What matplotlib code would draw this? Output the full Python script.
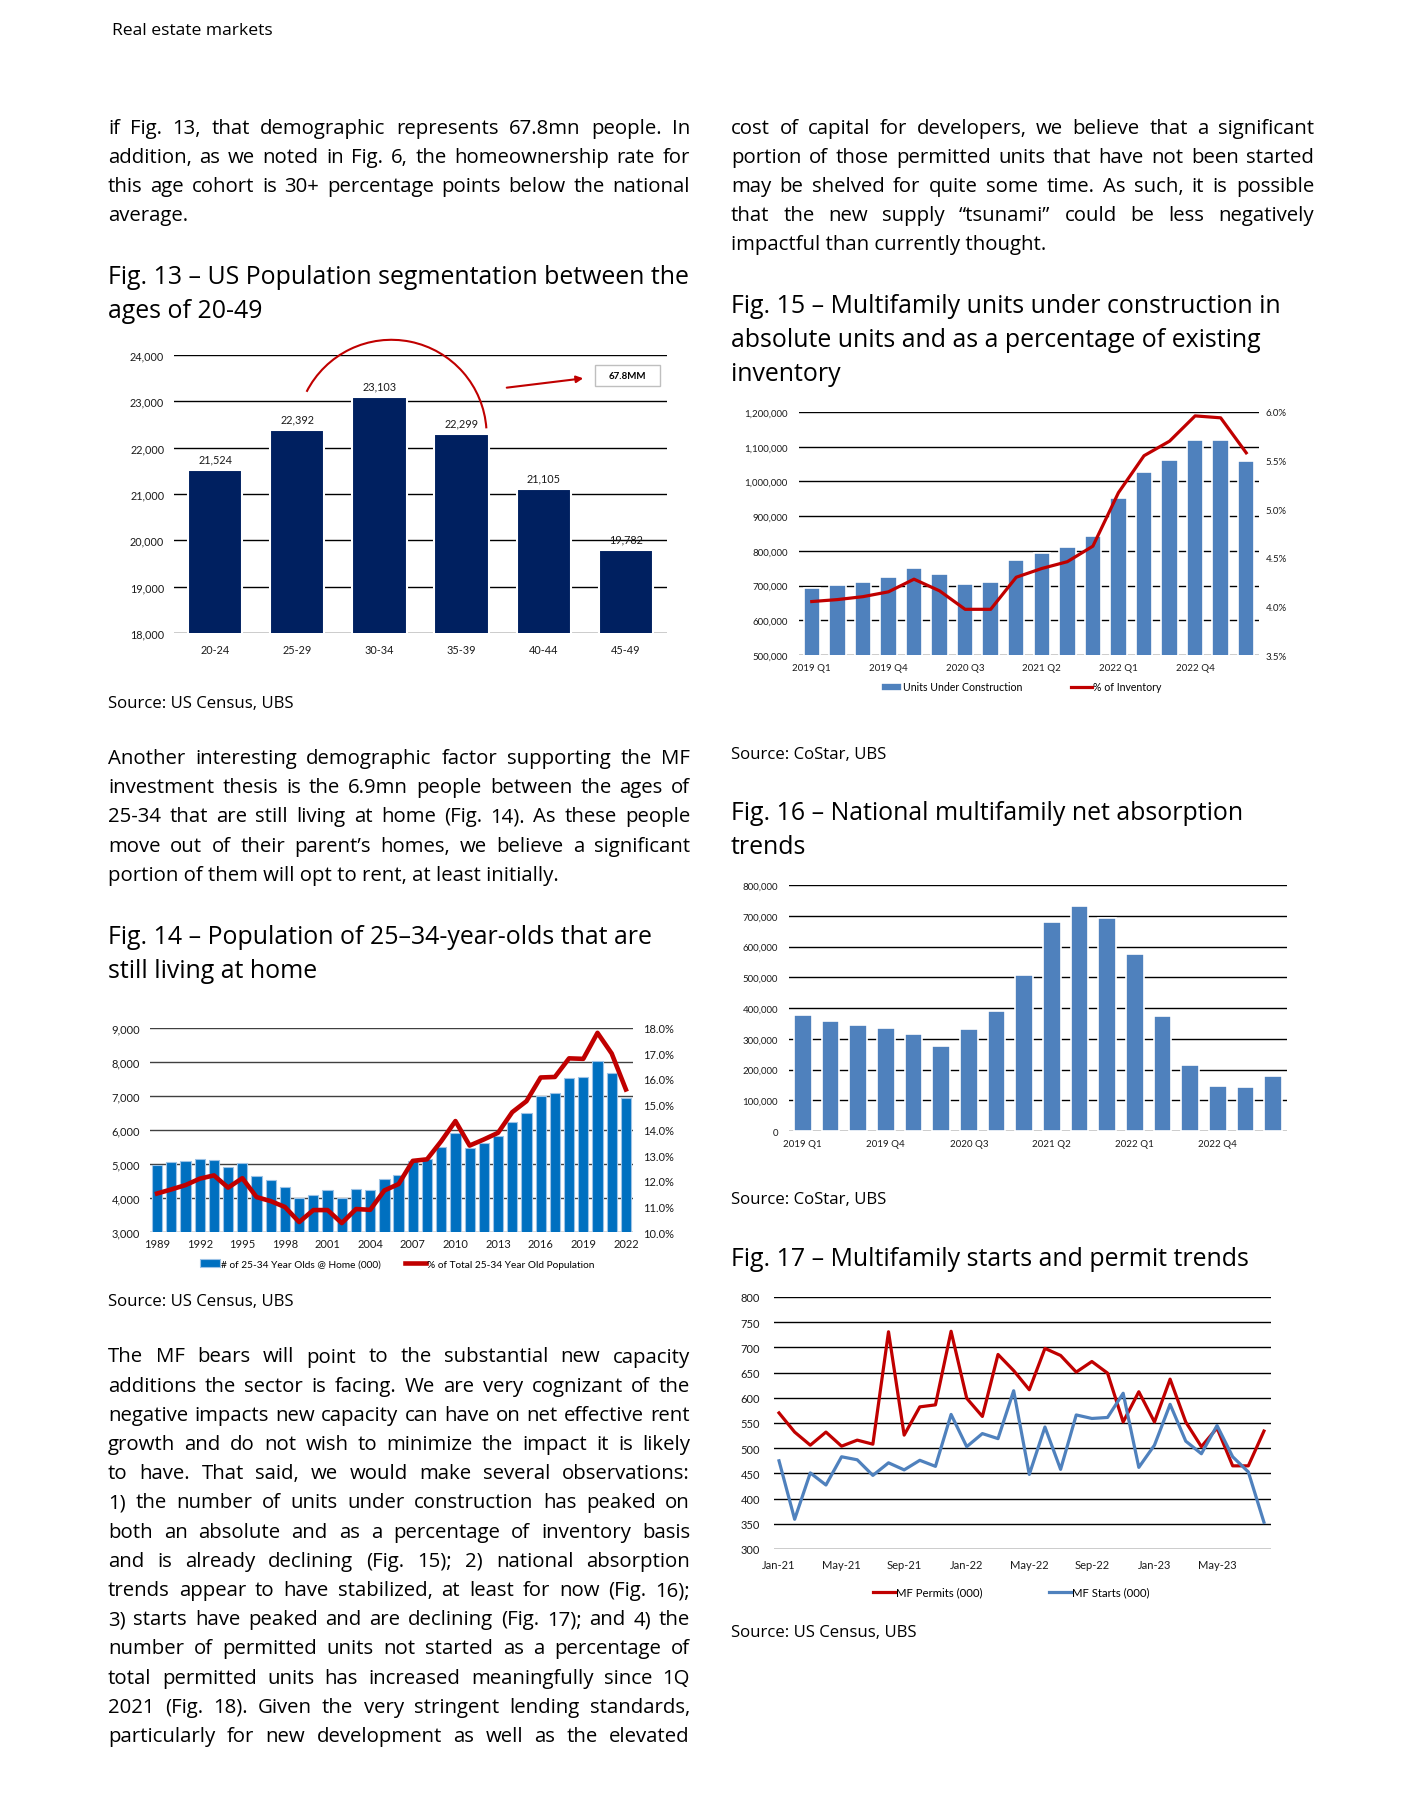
import matplotlib
matplotlib.use('Agg')
import matplotlib.pyplot as plt
from matplotlib.patches import Arc, Rectangle, FancyArrowPatch
from matplotlib.ticker import FuncFormatter, MultipleLocator

W, H = 1419, 1799
BODY = ['Open Sans', 'DejaVu Sans']
CHART = ['Lato', 'DejaVu Sans']

# Fig. 13 - population by age bracket (000)
ages = ['20-24', '25-29', '30-34', '35-39', '40-44', '45-49']
pop_000 = [21524, 22392, 23103, 22299, 21105, 19782]

# Fig. 14 - 25-34 year olds living at home
years = list(range(1989, 2023))
home_000 = [4980, 5050, 5090, 5140, 5110, 4920, 5030, 4650, 4520, 4320,
            3990, 4090, 4230, 3990, 4270, 4240, 4560, 4690, 5080, 5150,
            5500, 5900, 5460, 5610, 5810, 6230, 6500, 7010, 7100, 7530,
            7570, 8040, 7690, 6940]
home_pct = [11.51, 11.67, 11.84, 12.09, 12.22, 11.74, 12.11, 11.37, 11.21, 10.98,
            10.39, 10.86, 10.86, 10.35, 10.90, 10.87, 11.63, 11.88, 12.79, 12.85,
            13.56, 14.35, 13.39, 13.63, 13.89, 14.70, 15.13, 16.06, 16.08, 16.81,
            16.79, 17.81, 17.00, 15.59]
year_ticks = [1989, 1992, 1995, 1998, 2001, 2004, 2007, 2010, 2013, 2016, 2019, 2022]

# Fig. 15 / 16 - quarterly multifamily data
quarters = ['2019 Q1', '2019 Q2', '2019 Q3', '2019 Q4', '2020 Q1', '2020 Q2',
            '2020 Q3', '2020 Q4', '2021 Q1', '2021 Q2', '2021 Q3', '2021 Q4',
            '2022 Q1', '2022 Q2', '2022 Q3', '2022 Q4', '2023 Q1', '2023 Q2']
under_constr = [693000, 702000, 710000, 725000, 750000, 733000, 705000, 710000, 773000,
                793000, 811000, 842000, 951000, 1026000, 1063000, 1118000, 1120000, 1060000]
pct_inventory = [4.05, 4.07, 4.10, 4.15, 4.28, 4.16, 3.97, 3.97, 4.30,
                 4.39, 4.46, 4.62, 5.17, 5.55, 5.70, 5.96, 5.94, 5.58]
absorption = [377000, 357000, 344000, 335000, 315000, 276000, 331000, 390000, 506000,
              681000, 733000, 694000, 574000, 374000, 215000, 147000, 144000, 179000]
quarter_ticks = ['2019 Q1', '2019 Q4', '2020 Q3', '2021 Q2', '2022 Q1', '2022 Q4']

# Fig. 17 - monthly starts and permits (000), Jan-21 .. Aug-23
months = ['Jan-21', 'Feb-21', 'Mar-21', 'Apr-21', 'May-21', 'Jun-21', 'Jul-21', 'Aug-21',
          'Sep-21', 'Oct-21', 'Nov-21', 'Dec-21', 'Jan-22', 'Feb-22', 'Mar-22', 'Apr-22',
          'May-22', 'Jun-22', 'Jul-22', 'Aug-22', 'Sep-22', 'Oct-22', 'Nov-22', 'Dec-22',
          'Jan-23', 'Feb-23', 'Mar-23', 'Apr-23', 'May-23', 'Jun-23', 'Jul-23', 'Aug-23']
permits = [570, 532, 506, 532, 504, 516, 508, 731, 526, 582, 586, 732,
           599, 563, 686, 654, 616, 698, 684, 651, 672, 649, 552, 612,
           552, 637, 552, 503, 540, 465, 465, 534]
starts = [475, 359, 451, 427, 483, 477, 446, 471, 457, 476, 464, 567,
          503, 529, 519, 614, 448, 542, 458, 566, 559, 561, 609, 462,
          506, 587, 514, 489, 545, 483, 453, 353]
month_ticks = ['Jan-21', 'May-21', 'Sep-21', 'Jan-22', 'May-22', 'Sep-22', 'Jan-23', 'May-23']

# page text
left_p1 = ["if Fig. 13, that demographic represents 67.8mn people. In",
           "addition, as we noted in Fig. 6, the homeownership rate for",
           "this age cohort is 30+ percentage points below the national",
           "average."]
left_p2 = ["Another interesting demographic factor supporting the MF",
           "investment thesis is the 6.9mn people between the ages of",
           "25-34 that are still living at home (Fig. 14). As these people",
           "move out of their parent\u2019s homes, we believe a significant",
           "portion of them will opt to rent, at least initially."]
left_p3 = ["The MF bears will point to the substantial new capacity",
           "additions the sector is facing. We are very cognizant of the",
           "negative impacts new capacity can have on net effective rent",
           "growth and do not wish to minimize the impact it is likely",
           "to have. That said, we would make several observations:",
           "1) the number of units under construction has peaked on",
           "both an absolute and as a percentage of inventory basis",
           "and is already declining (Fig. 15); 2) national absorption",
           "trends appear to have stabilized, at least for now (Fig. 16);",
           "3) starts have peaked and are declining (Fig. 17); and 4) the",
           "number of permitted units not started as a percentage of",
           "total permitted units has increased meaningfully since 1Q",
           "2021 (Fig. 18). Given the very stringent lending standards,",
           "particularly for new development as well as the elevated"]
right_p1 = ["cost of capital for developers, we believe that a significant",
            "portion of those permitted units that have not been started",
            "may be shelved for quite some time. As such, it is possible",
            "that the new supply \u201ctsunami\u201d could be less negatively",
            "impactful than currently thought."]


def box(l, t, r, b):
    return [l / W, 1 - b / H, (r - l) / W, (b - t) / H]


fig = plt.figure(figsize=(W / 100, H / 100), dpi=100)
page = fig.add_axes([0, 0, 1, 1])
page.set_xlim(0, W)
page.set_ylim(0, H)
page.axis('off')
renderer = fig.canvas.get_renderer()

LX0, LX1 = 108, 690
RX0, RX1 = 731, 1314
STEP = 29.2


def text_width(s, size):
    t = page.text(0, 0, s, fontsize=size, family=BODY)
    w = t.get_window_extent(renderer).width
    t.remove()
    return w


# body size: the tightest justified line fills the column with plain spaces
justified = left_p1[:-1] + left_p2[:-1] + left_p3 + right_p1[:-1]
BODY_SIZE = min(10 * (LX1 - LX0) / text_width(s, 10) for s in justified) * 0.99
TITLE_SIZE = 10 * 582 / text_width("Fig. 13 \u2013 US Population segmentation between the", 10)
SRC_SIZE = 12.1


def put_line(x0, x1, y, text, size, justify):
    words = text.split(' ')
    if not justify or len(words) == 1:
        page.text(x0, H - y, text, fontsize=size, family=BODY, va='center_baseline', ha='left')
        return
    objs = [page.text(0, H - y, w, fontsize=size, family=BODY, va='center_baseline', ha='left')
            for w in words]
    widths = [o.get_window_extent(renderer).width for o in objs]
    gap = (x1 - x0 - sum(widths)) / (len(words) - 1)
    x = x0
    for o, wd in zip(objs, widths):
        o.set_x(x)
        x += wd + gap


def paragraph(x0, x1, y0, lines, last_justified=False):
    for i, ln in enumerate(lines):
        last = i == len(lines) - 1
        put_line(x0, x1, y0 + i * STEP, ln, BODY_SIZE, (not last) or last_justified)


def title(x0, y0, lines):
    for i, ln in enumerate(lines):
        page.text(x0, H - (y0 + i * 34), ln, fontsize=TITLE_SIZE, family=BODY,
                  va='center_baseline', ha='left')


def source(x0, y, text):
    page.text(x0, H - y, text, fontsize=SRC_SIZE, family=BODY, va='center_baseline', ha='left')


page.text(112, H - 29, 'Real estate markets', fontsize=12.6, family=BODY,
          va='center_baseline', ha='left')

paragraph(LX0, LX1, 126, left_p1)
title(LX0, 275, ["Fig. 13 \u2013 US Population segmentation between the", "ages of 20-49"])
source(LX0, 702, 'Source: US Census, UBS')
paragraph(LX0, LX1, 756.5, left_p2)
title(LX0, 935, ["Fig. 14 \u2013 Population of 25\u201334-year-olds that are", "still living at home"])
source(LX0, 1300, 'Source: US Census, UBS')
paragraph(LX0, LX1, 1355, left_p3, last_justified=True)

paragraph(RX0, RX1, 126, right_p1)
title(RX0, 303.5, ["Fig. 15 \u2013 Multifamily units under construction in",
                   "absolute units and as a percentage of existing", "inventory"])
source(RX0, 753, 'Source: CoStar, UBS')
title(RX0, 811, ["Fig. 16 \u2013 National multifamily net absorption", "trends"])
source(RX0, 1198, 'Source: CoStar, UBS')
title(RX0, 1257, ["Fig. 17 \u2013 Multifamily starts and permit trends"])
source(RX0, 1631, 'Source: US Census, UBS')


def style(ax, size, grid_color='black'):
    for s in ax.spines.values():
        s.set_visible(False)
    ax.tick_params(length=0, labelsize=size, labelcolor='#1a1a1a')
    for lab in ax.get_xticklabels() + ax.get_yticklabels():
        lab.set_family(CHART)
    ax.set_axisbelow(True)
    ax.patch.set_visible(False)
    ax.yaxis.grid(True, color=grid_color, lw=1.0)
    ax.xaxis.grid(False)


thousands = FuncFormatter(lambda v, p: f'{v:,.0f}')
pct1 = FuncFormatter(lambda v, p: f'{v:.1f}%')

# ---- Fig. 13
ax13 = fig.add_axes(box(174, 356, 667, 634))
x13 = range(len(ages))
ax13.bar(x13, pop_000, width=0.66, color='#002060', edgecolor='white', linewidth=1.5, zorder=2)
ax13.set_xlim(-0.5, len(ages) - 0.5)
ax13.set_ylim(18000, 24000)
ax13.yaxis.set_major_locator(MultipleLocator(1000))
ax13.yaxis.set_major_formatter(thousands)
ax13.set_xticks(list(x13))
ax13.set_xticklabels(ages)
style(ax13, 7.8)
ax13.tick_params(axis='y', pad=7)
ax13.tick_params(axis='x', pad=8)
for i, v in enumerate(pop_000):
    ax13.annotate(f'{v:,}', (i, v), xytext=(0, 4), textcoords='offset points',
                  ha='center', va='bottom', fontsize=7.8, family=CHART, color='#1a1a1a')

# ---- Fig. 14
ax14 = fig.add_axes(box(150, 1029, 633, 1233))
x14 = range(len(years))
ax14.bar(x14, home_000, width=0.72, color='#0070C0', edgecolor='#9DC3E6', linewidth=0.8,
         zorder=2, label='# of 25-34 Year Olds @ Home (000)')
ax14.set_xlim(-0.5, len(years) - 0.5)
ax14.set_ylim(3000, 9000)
ax14.yaxis.set_major_locator(MultipleLocator(1000))
ax14.yaxis.set_major_formatter(thousands)
ax14.set_xticks([years.index(y) for y in year_ticks])
ax14.set_xticklabels([str(y) for y in year_ticks])
style(ax14, 8, grid_color='#404040')
ax14.tick_params(axis='y', pad=7)
ax14.tick_params(axis='x', pad=4)
ax14r = ax14.twinx()
ax14r.plot(x14, home_pct, color='#C00000', lw=3.3, zorder=3,
           label='% of Total 25-34 Year Old Population')
ax14r.set_ylim(10, 18)
ax14r.yaxis.set_major_locator(MultipleLocator(1))
ax14r.yaxis.set_major_formatter(pct1)
style(ax14r, 8)
ax14r.yaxis.grid(False)
ax14r.tick_params(axis='y', pad=7)
h1, l1 = ax14.get_legend_handles_labels()
h2, l2 = ax14r.get_legend_handles_labels()
ax14.legend(h1 + h2, l1 + l2, loc='center', bbox_to_anchor=(397 / W, 1 - 1265 / H),
            bbox_transform=fig.transFigure, ncol=2, frameon=False,
            handlelength=2.0, handleheight=0.7, handletextpad=0.1, columnspacing=2.4,
            prop={'family': CHART, 'size': 7.3})

# ---- Fig. 15
ax15 = fig.add_axes(box(799, 413, 1259, 656))
x15 = range(len(quarters))
ax15.bar(x15, under_constr, width=0.64, color='#4F81BD', edgecolor='white', linewidth=1.2,
         zorder=2, label='Units Under Construction')
ax15.set_xlim(-0.5, len(quarters) - 0.5)
ax15.set_ylim(500000, 1200000)
ax15.yaxis.set_major_locator(MultipleLocator(100000))
ax15.yaxis.set_major_formatter(thousands)
ax15.set_xticks([quarters.index(q) for q in quarter_ticks])
ax15.set_xticklabels(quarter_ticks)
style(ax15, 7)
ax15.tick_params(axis='y', pad=8)
ax15.tick_params(axis='x', pad=6)
ax15r = ax15.twinx()
ax15r.plot(x15, pct_inventory, color='#C00000', lw=2.3, zorder=3, label='% of Inventory')
ax15r.set_ylim(3.5, 6.0)
ax15r.yaxis.set_major_locator(MultipleLocator(0.5))
ax15r.yaxis.set_major_formatter(pct1)
style(ax15r, 7)
ax15r.yaxis.grid(False)
ax15r.tick_params(axis='y', pad=5)
h1, l1 = ax15.get_legend_handles_labels()
h2, l2 = ax15r.get_legend_handles_labels()
ax15.legend(h1 + h2, l1 + l2, loc='center', bbox_to_anchor=(1021 / W, 1 - 688 / H),
            bbox_transform=fig.transFigure, ncol=2, frameon=False,
            handlelength=2.0, handleheight=0.75, handletextpad=0.1, columnspacing=4.6,
            prop={'family': CHART, 'size': 7.6})

# ---- Fig. 16
ax16 = fig.add_axes(box(789, 886, 1287, 1132))
x16 = range(len(quarters))
ax16.bar(x16, absorption, width=0.64, color='#4F81BD', edgecolor='white', linewidth=1.2, zorder=2)
ax16.set_xlim(-0.5, len(quarters) - 0.5)
ax16.set_ylim(0, 800000)
ax16.yaxis.set_major_locator(MultipleLocator(100000))
ax16.yaxis.set_major_formatter(thousands)
ax16.set_xticks([quarters.index(q) for q in quarter_ticks])
ax16.set_xticklabels(quarter_ticks)
style(ax16, 7)
ax16.tick_params(axis='y', pad=8)
ax16.tick_params(axis='x', pad=6)

# ---- Fig. 17
ax17 = fig.add_axes(box(774, 1298, 1271, 1550))
x17 = range(len(months))
ax17.plot(x17, permits, color='#C00000', lw=2.3, label='MF Permits (000)', zorder=3)
ax17.plot(x17, starts, color='#4F81BD', lw=2.3, label='MF Starts (000)', zorder=3)
ax17.set_xlim(-0.32, len(months) - 0.55)
ax17.set_ylim(300, 800)
ax17.yaxis.set_major_locator(MultipleLocator(50))
ax17.set_xticks([months.index(m) for m in month_ticks])
ax17.set_xticklabels(month_ticks)
style(ax17, 8)
ax17.tick_params(axis='y', pad=10)
ax17.tick_params(axis='x', pad=7)
ax17.legend(loc='center', bbox_to_anchor=(1011 / W, 1 - 1593 / H),
            bbox_transform=fig.transFigure, ncol=2, frameon=False,
            handlelength=2.0, handletextpad=0.05, columnspacing=5.8,
            prop={'family': CHART, 'size': 8.2})

# ---- Fig. 13 call-outs (arc, arrow, total box)
ann = fig.add_axes([0, 0, 1, 1])
ann.set_xlim(0, W)
ann.set_ylim(0, H)
ann.axis('off')
ann.add_patch(Arc((391.4, H - 436), 190.4, 190.4, theta1=4, theta2=153,
                  color='#C00000', lw=1.5))
ann.add_patch(FancyArrowPatch((504, H - 389), (586, H - 379), arrowstyle='-|>',
                              mutation_scale=10, color='#C00000', lw=1.5))
ann.add_patch(Rectangle((595, H - 387), 65, 21, facecolor='white', edgecolor='#BFBFBF', lw=1))
ann.text(627.5, H - 376.5, '67.8MM', ha='center', va='center', fontsize=7,
         fontweight='bold', family=CHART)

fig.savefig('out.png', dpi=100)
